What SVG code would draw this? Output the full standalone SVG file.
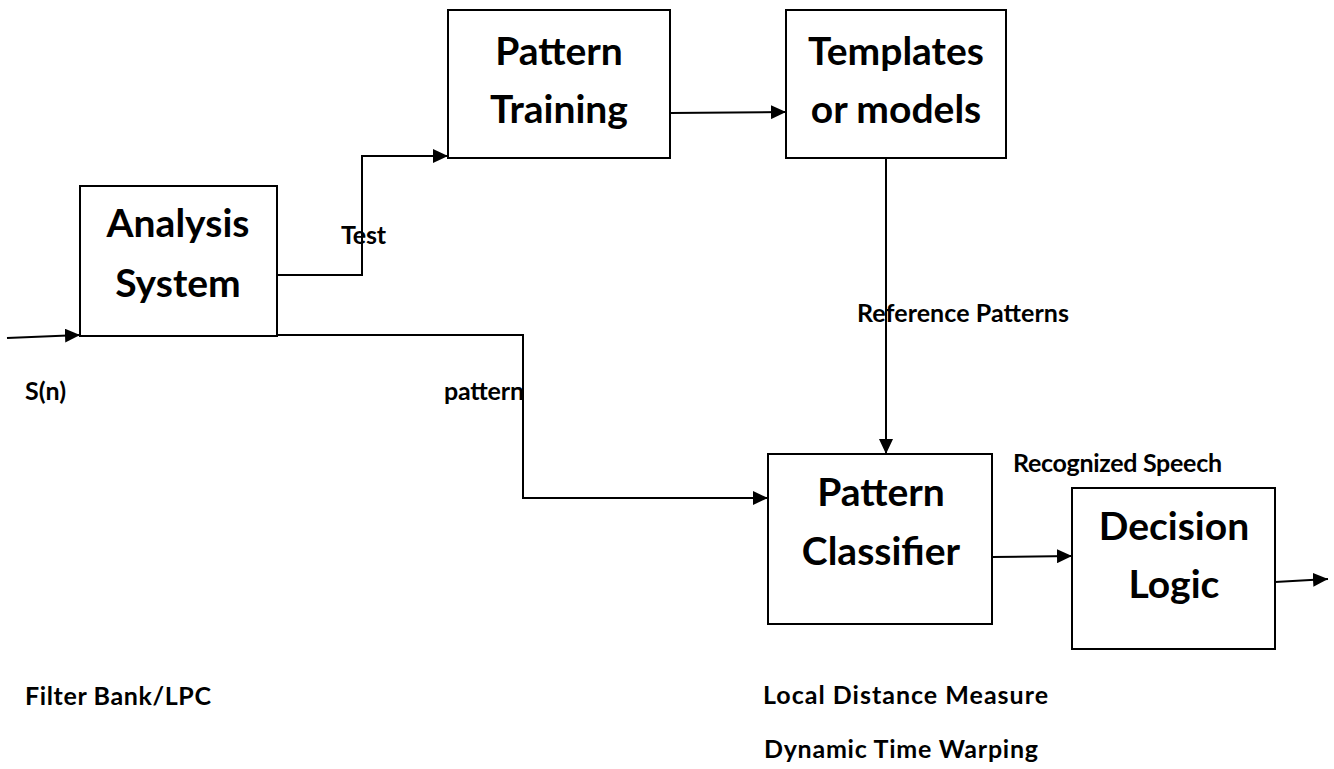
<svg xmlns="http://www.w3.org/2000/svg" width="1334" height="769" viewBox="0 0 1334 769">
  <style>
    .box { fill: #fff; stroke: #000; stroke-width: 2; }
    .big { font-family: Lato, "Open Sans", "Liberation Sans", sans-serif; font-weight: bold; font-size: 39px; text-anchor: middle; fill: #000; }
    .lbl { font-family: Lato, "Open Sans", "Liberation Sans", sans-serif; font-weight: bold; font-size: 25px; fill: #000; }
    .wire { fill: none; stroke: #000; stroke-width: 2; }
  </style>
  <defs>
    <marker id="arrow" viewBox="0 0 15 14" refX="15" refY="7" markerWidth="15" markerHeight="14" markerUnits="userSpaceOnUse" orient="auto">
      <path d="M0,0 L15,7 L0,14 z" fill="#000"/>
    </marker>
  </defs>
  <rect width="1334" height="769" fill="#fff"/>

  <!-- signal paths between the blocks -->
  <g id="connectors">
    <line class="wire" x1="7" y1="338" x2="80" y2="335" marker-end="url(#arrow)"/>
    <polyline class="wire" points="277,275 362,275 362,156 448,156" marker-end="url(#arrow)"/>
    <polyline class="wire" points="277,335 523,335 523,498 768,498" marker-end="url(#arrow)"/>
    <line class="wire" x1="670" y1="113" x2="786" y2="112" marker-end="url(#arrow)"/>
    <line class="wire" x1="886" y1="158" x2="886" y2="454" marker-end="url(#arrow)"/>
    <line class="wire" x1="992" y1="557" x2="1072" y2="556" marker-end="url(#arrow)"/>
    <line class="wire" x1="1275" y1="582" x2="1328" y2="579" marker-end="url(#arrow)"/>
  </g>

  <g id="analysis">
    <rect class="box" x="80" y="186" width="197" height="150"/>
    <text class="big" x="178" y="237">Analysis</text>
    <text class="big" x="178" y="297">System</text>
  </g>
  <g id="training">
    <rect class="box" x="448" y="10" width="222" height="148"/>
    <text class="big" x="559" y="65">Pattern</text>
    <text class="big" x="559" y="123">Training</text>
  </g>
  <g id="templates">
    <rect class="box" x="786" y="10" width="220" height="148"/>
    <text class="big" x="896" y="65">Templates</text>
    <text class="big" x="896" y="123">or models</text>
  </g>
  <g id="classifier">
    <rect class="box" x="768" y="454" width="224" height="170"/>
    <text class="big" x="881" y="506">Pattern</text>
    <text class="big" x="881" y="565">Classifier</text>
  </g>
  <g id="decision">
    <rect class="box" x="1072" y="488" width="203" height="161"/>
    <text class="big" x="1174" y="540">Decision</text>
    <text class="big" x="1174" y="598">Logic</text>
  </g>

  <g id="labels">
    <text class="lbl" x="341" y="244" textLength="45">Test</text>
    <text class="lbl" x="25" y="400" textLength="41">S(n)</text>
    <text class="lbl" x="444" y="400" textLength="80">pattern</text>
    <text class="lbl" x="857" y="322" textLength="212">Reference Patterns</text>
    <text class="lbl" x="1013" y="472" textLength="209">Recognized Speech</text>
    <text class="lbl" x="25" y="705" textLength="186">Filter Bank/LPC</text>
    <text class="lbl" x="763" y="704" textLength="285">Local Distance Measure</text>
    <text class="lbl" x="764" y="758" textLength="274">Dynamic Time Warping</text>
  </g>
</svg>
